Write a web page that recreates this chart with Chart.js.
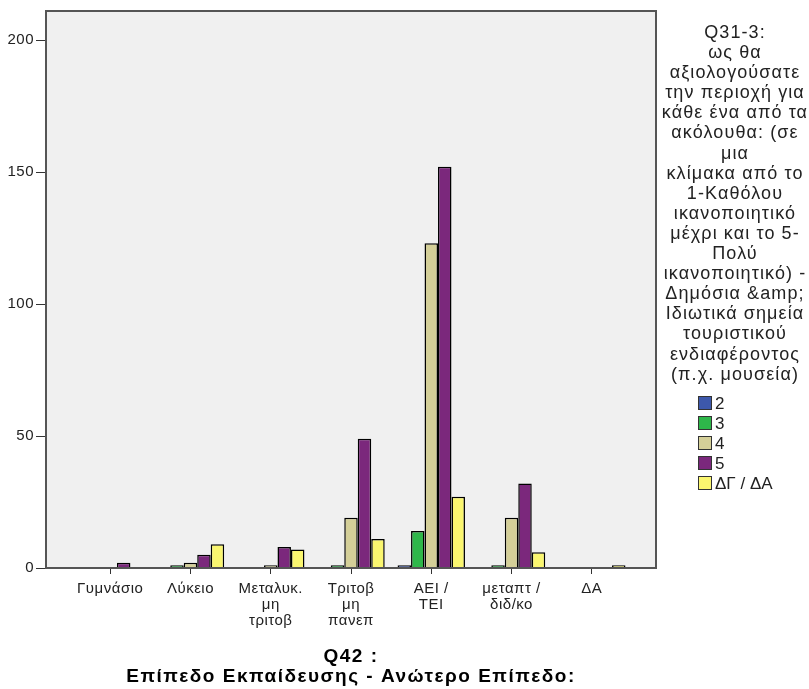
<!DOCTYPE html>
<html>
<head>
<meta charset="utf-8">
<script src="https://cdn.jsdelivr.net/npm/chart.js@4"></script>
<style>
  body { margin: 0; background: #fff; }
  canvas { display: block; }
</style>
</head>
<body>
<canvas id="chart" width="809" height="689"></canvas>
<script>
// categories: Q42 education level
const categories = [
  ['Γυμνάσιο'],
  ['Λύκειο'],
  ['Μεταλυκ.', 'μη', 'τριτοβ'],
  ['Τριτοβ', 'μη', 'πανεπ'],
  ['ΑΕΙ /', 'ΤΕΙ'],
  ['μεταπτ /', 'διδ/κο'],
  ['ΔΑ']
];

// counts per rating (Q31-3)
const rating2 = [0, 0, 0, 0, 1, 0, 0];
const rating3 = [0, 1, 0, 1, 14, 1, 0];
const rating4 = [0, 2, 1, 19, 123, 19, 0];
const rating5 = [2, 5, 8, 49, 152, 32, 0];
const ratingDK = [0, 9, 7, 11, 27, 6, 1];

const seriesLabels = ['2', '3', '4', '5', 'ΔΓ / ΔΑ'];
const seriesColors = ['#3D58AB', '#2EB74A', '#D4CF98', '#7B287C', '#FAF66F'];
const yTicks = [0, 50, 100, 150, 200];

const legendTitle = [
  'Q31-3:', 'ως θα', 'αξιολογούσατε', 'την περιοχή για', 'κάθε ένα από τα',
  'ακόλουθα: (σε', 'μια', 'κλίμακα από το', '1-Καθόλου', 'ικανοποιητικό',
  'μέχρι και το 5-', 'Πολύ', 'ικανοποιητικό) -', 'Δημόσια &amp;',
  'Ιδιωτικά σημεία', 'τουριστικού', 'ενδιαφέροντος', '(π.χ. μουσεία)'
];
const xTitle = ['Q42 :', 'Επίπεδο Εκπαίδευσης - Ανώτερο Επίπεδο:'];

const FONT = '"Liberation Sans", Arial, sans-serif';

// grey plot background + frame, legend and axis title
const frame = {
  id: 'frame',
  beforeDraw(chart) {
    const { ctx, chartArea: a } = chart;
    ctx.letterSpacing = '0.5px'; // SPSS greek text runs wider
    ctx.save();
    ctx.fillStyle = '#F0F0F0';
    ctx.fillRect(a.left, a.top, a.right - a.left, a.bottom - a.top);
    ctx.restore();
  },
  afterDraw(chart) {
    const { ctx, chartArea: a } = chart;
    ctx.save();
    ctx.strokeStyle = '#555';
    ctx.lineWidth = 2;
    ctx.strokeRect(a.left, a.top, a.right - a.left, a.bottom - a.top);

    // x axis title
    ctx.fillStyle = '#000';
    ctx.textAlign = 'center';
    ctx.textBaseline = 'middle';
    ctx.font = 'bold 19px ' + FONT;
    ctx.letterSpacing = '1.5px';
    const cx = (a.left + a.right) / 2;
    xTitle.forEach((t, i) => ctx.fillText(t, cx, 657 + i * 20));

    // legend title
    ctx.font = '18px ' + FONT;
    ctx.letterSpacing = '1.1px';
    ctx.fillStyle = '#222';
    legendTitle.forEach((t, i) => ctx.fillText(t, 735, 33 + i * 20.1));

    // legend items
    ctx.textAlign = 'left';
    ctx.font = '17px ' + FONT;
    ctx.letterSpacing = '0px';
    chart.data.datasets.forEach((ds, i) => {
      const y = 403 + i * 20;
      ctx.fillStyle = ds.backgroundColor;
      ctx.fillRect(698, y - 7, 14, 14);
      ctx.strokeStyle = '#333';
      ctx.lineWidth = 1;
      ctx.strokeRect(698.5, y - 6.5, 13, 13);
      ctx.fillStyle = '#222';
      ctx.fillText(ds.label, 715, y + 1);
    });
    ctx.restore();
  }
};

const data = [rating2, rating3, rating4, rating5, ratingDK];

new Chart(document.getElementById('chart'), {
  type: 'bar',
  data: {
    labels: categories,
    datasets: data.map((values, i) => ({
      label: seriesLabels[i],
      data: values,
      backgroundColor: seriesColors[i],
      borderColor: '#000',
      borderWidth: 1.5,
      categoryPercentage: 0.84,
      barPercentage: 1
    }))
  },
  options: {
    responsive: false,
    animation: false,
    layout: { padding: { top: 7, right: 153 } },
    plugins: {
      legend: { display: false },
      tooltip: { enabled: false }
    },
    scales: {
      x: {
        offset: true,
        afterBuildTicks(scale) {
          // wider outer gaps like the SPSS frame
          scale._startValue = -0.8;
          scale._valueRange = 7.6;
        },
        afterFit(scale) { scale.height = 121; },
        grid: { offset: false, drawOnChartArea: false, drawTicks: true, tickLength: 6, color: '#333' },
        border: { display: true, color: '#222', width: 2 },
        ticks: {
          color: '#222',
          font: { family: FONT, size: 15, lineHeight: 1.05 },
          padding: 7,
          maxRotation: 0,
          autoSkip: false
        }
      },
      y: {
        min: 0,
        max: 211,
        afterBuildTicks(scale) {
          scale.ticks = yTicks.map(v => ({ value: v }));
        },
        afterFit(scale) { scale.width = 46; },
        grid: { drawOnChartArea: false, drawTicks: true, tickLength: 10, color: '#333' },
        border: { display: true, color: '#555', width: 2 },
        ticks: {
          color: '#222',
          font: { family: FONT, size: 15 },
          padding: 2
        }
      }
    }
  },
  plugins: [frame]
});
</script>
</body>
</html>
